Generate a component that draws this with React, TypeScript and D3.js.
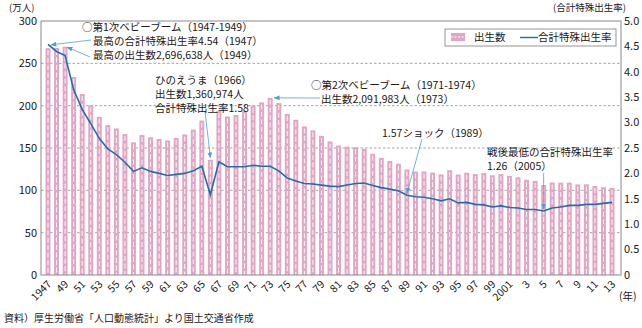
import React from "react";
import * as d3 from "d3";

const years: number[] = d3.range(1947, 2014);
const births: number[] = [
  267.9, 268.2, 269.7, 233.8, 213.8, 200.5, 186.8, 177.0, 173.1, 166.5,
  156.7, 165.3, 162.6, 160.6, 158.9, 161.9, 166.0, 171.7, 182.4, 136.1,
  193.6, 187.2, 189.0, 193.4, 200.1, 203.9, 209.2, 203.0, 190.1, 183.3,
  175.5, 170.9, 164.3, 157.7, 152.9, 151.5, 150.9, 149.0, 143.2, 138.3,
  134.7, 131.4, 124.7, 122.2, 122.3, 120.9, 118.8, 123.8, 118.7, 120.7,
  119.2, 120.3, 117.8, 119.1, 117.1, 115.4, 112.4, 111.1, 106.3, 109.3,
  109.0, 109.1, 107.0, 107.1, 105.1, 103.7, 103.0,
];
const tfr: number[] = [
  4.54, 4.40, 4.32, 3.65, 3.26, 2.98, 2.69, 2.48, 2.37, 2.22,
  2.04, 2.11, 2.04, 2.00, 1.96, 1.98, 2.00, 2.05, 2.14, 1.58,
  2.23, 2.13, 2.13, 2.13, 2.16, 2.14, 2.14, 2.05, 1.91, 1.85,
  1.80, 1.79, 1.77, 1.75, 1.74, 1.77, 1.80, 1.81, 1.76, 1.72,
  1.69, 1.66, 1.57, 1.54, 1.53, 1.50, 1.46, 1.50, 1.42, 1.43,
  1.39, 1.38, 1.34, 1.36, 1.33, 1.32, 1.29, 1.29, 1.26, 1.32,
  1.34, 1.37, 1.37, 1.39, 1.39, 1.41, 1.43,
];
const leftTicks: number[] = [0, 50, 100, 150, 200, 250, 300];
const rightTicks: number[] = [0, 0.5, 1.0, 1.5, 2.0, 2.5, 3.0, 3.5, 4.0, 4.5, 5.0];
const xTickYears: number[] = d3.range(1947, 2014, 2);
const xTickLabel = (y: number) =>
  y === 1947 ? "1947" : y === 2001 ? "2001" : y > 2001 ? String(y - 2000) : String(y % 100);

const FONT = "'Noto Sans CJK JP', 'Noto Sans', sans-serif";
const TXT = "#231815";
const AX = "#8a8a8a";
const PINK = "#e2a6c5";
const BLUE = "#1f6eb4";
const ARROW = "#4aa0d6";

const L = 41, R = 621, T = 21, B = 275;

export default function App() {
  const step = (612 - 48) / (years.length - 1);
  const x = d3
    .scaleBand<number>()
    .domain(years)
    .range([48 - step / 2, 612 + step / 2])
    .paddingInner(0.42)
    .paddingOuter(0.21);
  const cx = (yr: number) => (x(yr) as number) + x.bandwidth() / 2;
  const yL = d3.scaleLinear().domain([0, 300]).range([B, T]);
  const yR = d3.scaleLinear().domain([0, 5]).range([B, T]);
  const line = d3
    .line<number>()
    .x((_, i) => cx(years[i]))
    .y((d) => yR(d));
  const idx = (yr: number) => years.indexOf(yr);

  const arrows: [number, number, number, number][] = [
    [91, 40, cx(1947) + 3, yR(tfr[idx(1947)]) + 0.5],
    [90, 57, cx(1949) + 2, yL(births[idx(1949)]) + 0.5],
    [205, 111, cx(1966), yL(births[idx(1966)]) - 2],
    [320, 98, cx(1973) + 4, yL(births[idx(1973)])],
    [422, 139, cx(1989), yR(tfr[idx(1989)]) - 2],
    [cx(2005), 173, cx(2005), yR(tfr[idx(2005)]) - 2],
  ];

  return (
    <svg width={642} height={328} style={{ display: "block", position: "absolute", left: 0, top: 0 }} fontFamily={FONT}>
      <defs>
        <marker id="ah" viewBox="0 0 10 10" refX="9" refY="5" markerWidth="6" markerHeight="6" orient="auto-start-reverse" markerUnits="userSpaceOnUse">
          <path d="M0,1 L10,5 L0,9 z" fill={ARROW} />
        </marker>
      </defs>
      <rect width={642} height={328} fill="#fff" />
      {/* gridlines */}
      {leftTicks.filter((t) => t > 0 && t < 300).map((t) => (
        <line key={t} x1={L} x2={R} y1={yL(t)} y2={yL(t)} stroke="#9a9a9a" strokeWidth={0.9} strokeDasharray="2.5,2" />
      ))}
      {/* bars */}
      {years.map((yr, i) => (
        <g key={yr}>
          <rect x={x(yr)} y={yL(births[i])} width={x.bandwidth()} height={B - yL(births[i])} fill={PINK} />
          <line x1={cx(yr)} x2={cx(yr)} y1={yL(births[i]) + 2} y2={B} stroke="#fff" strokeWidth={1} strokeDasharray="5,2.5" opacity={0.9} />
        </g>
      ))}
      {/* frame */}
      <rect x={L} y={T} width={R - L} height={B - T} fill="none" stroke={AX} strokeWidth={1} />
      {/* line */}
      <path d={line(tfr) || ""} fill="none" stroke={BLUE} strokeWidth={1.6} />
      {/* left ticks */}
      {leftTicks.map((t) => (
        <text key={t} x={37} y={yL(t)} dy="0.35em" textAnchor="end" fontSize={11} fill={TXT}>{t}</text>
      ))}
      {rightTicks.map((t) => (
        <text key={t} x={624} y={yR(t)} dy="0.35em" textAnchor="start" fontSize={11} fill={TXT}>{t === 0 ? "0" : t.toFixed(1)}</text>
      ))}
      <text x={9} y={11} fontSize={9.5} fill={TXT}>(万人)</text>
      <text x={626} y={11} textAnchor="end" fontSize={9.5} fill={TXT}>(合計特殊出生率)</text>
      {/* x labels */}
      {xTickYears.map((yr) => (
        <text key={yr} transform={`translate(${cx(yr) + 4},${285}) rotate(-45)`} textAnchor="end" fontSize={10.5} fill={TXT}>{xTickLabel(yr)}</text>
      ))}
      <text x={619} y={300} fontSize={10.5} fill={TXT}>(年)</text>
      <text x={4} y={322} fontSize={10} fill={TXT}>資料）厚生労働省「人口動態統計」より国土交通省作成</text>
      {/* legend */}
      <rect x={445} y={29} width={171} height={17} fill="#fff" stroke={AX} strokeWidth={0.9} />
      <rect x={451} y={33} width={14} height={8} fill={PINK} />
      <line x1={451} x2={465} y1={37} y2={37} stroke="#fff" strokeWidth={1} strokeDasharray="2,1.5" />
      <text x={474} y={37.5} dy="0.35em" fontSize={10.5} fill={TXT}>出生数</text>
      <line x1={520} x2={538} y1={37.5} y2={37.5} stroke={BLUE} strokeWidth={1.4} />
      <text x={538} y={37.5} dy="0.35em" fontSize={10.5} fill={TXT}>合計特殊出生率</text>
      {/* arrows */}
      {arrows.map(([x1, y1, x2, y2], i) => (
        <line key={i} x1={x1} y1={y1} x2={x2} y2={y2} stroke={ARROW} strokeWidth={0.8} markerEnd="url(#ah)" />
      ))}
      {/* annotations */}
      <g fontSize={10.5} fill={TXT}>
        <text x={82} y={31}>○第1次ベビーブーム（1947-1949）</text>
        <text x={93} y={45}>最高の合計特殊出生率4.54（1947）</text>
        <text x={93} y={59}>最高の出生数2,696,638人（1949）</text>
        <text x={155} y={84}>ひのえうま（1966）</text>
        <text x={155} y={98}>出生数1,360,974人</text>
        <text x={155} y={112}>合計特殊出生率1.58</text>
        <text x={311} y={89}>○第2次ベビーブーム（1971-1974）</text>
        <text x={321} y={103}>出生数2,091,983人（1973）</text>
        <text x={382} y={137}>1.57ショック（1989）</text>
        <text x={487} y={156}>戦後最低の合計特殊出生率</text>
        <text x={487} y={170}>1.26（2005）</text>
      </g>
    </svg>
  );
}
